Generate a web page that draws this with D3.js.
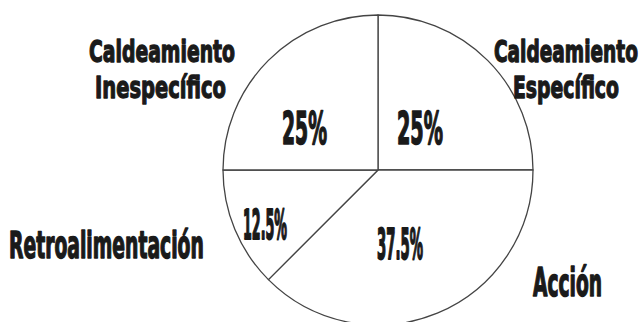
<!DOCTYPE html>
<html>
<head>
<meta charset="utf-8">
<script src="https://cdn.jsdelivr.net/npm/d3@7"></script>
<style>
  html, body { margin: 0; padding: 0; background: #fff; }
  svg { display: block; }
  text { font-family: 'DejaVu Sans Condensed', 'Liberation Sans Narrow', 'DejaVu Sans', sans-serif; font-weight: bold; fill: #1a1a1a; stroke: #1a1a1a; stroke-width: 1.1px; stroke-linejoin: round; }
</style>
</head>
<body>
<script>
// ---- data ----
const categories = ["Caldeamiento Específico", "Acción", "Retroalimentación", "Caldeamiento Inespecífico"];
const values = [25, 37.5, 12.5, 25];
const percentLabels = ["25%", "37.5%", "12.5%", "25%"];
const nameLines = [["Caldeamiento", "Específico"], ["Acción"], ["Retroalimentación"], ["Caldeamiento", "Inespecífico"]];

// ---- layout (not data) ----
const W = 643, H = 322;
const cx = 378, cy = 170, R = 155;
// percent label boxes: [x, baseline, width, fontSize]
const pctLayout = [[397, 144, 46, 44], [377, 259, 46, 42], [243, 239, 44, 41], [282, 144, 45, 44]];
// name label lines: per category, per line [x, baseline, width, fontSize]
const nameLayout = [
  [[494, 62, 144, 31], [513, 98, 106, 31]],
  [[533, 296, 69, 39]],
  [[9, 258, 195, 37]],
  [[89, 62, 146, 31], [95, 98, 131, 31]]
];

const svg = d3.select("body").append("svg").attr("width", W).attr("height", H);

const pie = d3.pie().sort(null).value(d => d).startAngle(0).endAngle(2 * Math.PI);
const arc = d3.arc().innerRadius(0).outerRadius(R);
const arcs = pie(values);

const g = svg.append("g").attr("transform", `translate(${cx},${cy})`);
g.selectAll("path.slice").data(arcs).join("path")
  .attr("class", "slice")
  .attr("d", arc)
  .attr("fill", "#fff")
  .attr("stroke", "#444")
  .attr("stroke-width", 1.3)
  .attr("stroke-linejoin", "round");

// draw a horizontally condensed text fitted to a width
function fitText(str, L, cls) {
  const t = svg.append("text")
    .attr("class", cls)
    .style("font-size", L[3] + "px")
    .text(str);
  const nat = t.node().getComputedTextLength() || L[2];
  const s = L[2] / nat;
  t.attr("transform", `translate(${L[0]},${L[1]}) scale(${s},1)`)
   .style("stroke-width", (1.1 / Math.sqrt(s)).toFixed(2) + "px");
  return t;
}

// percent labels
arcs.forEach((d, i) => fitText(percentLabels[i], pctLayout[i], "pct"));

// category labels
categories.forEach((c, i) => {
  nameLines[i].forEach((line, j) => fitText(line, nameLayout[i][j], "name"));
});
</script>
</body>
</html>
